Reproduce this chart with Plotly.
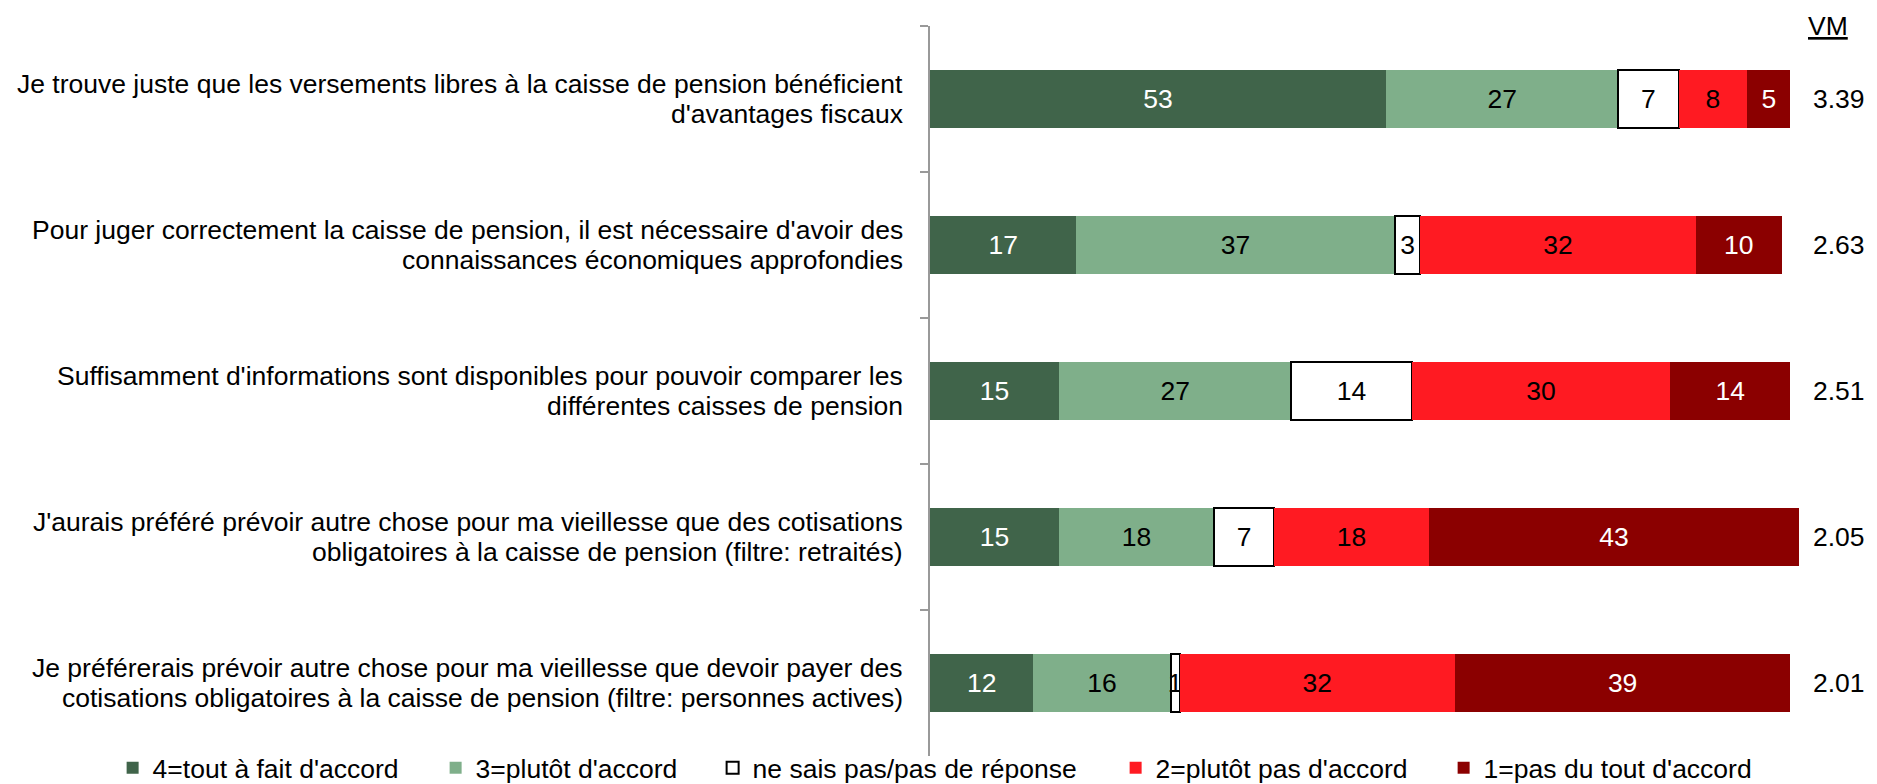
import plotly.graph_objects as go

# ---- data ----
label_line1 = [
    "Je trouve juste que les versements libres à la caisse de pension bénéficient",
    "Pour juger correctement la caisse de pension, il est nécessaire d'avoir des",
    "Suffisamment d'informations sont disponibles pour pouvoir comparer les",
    "J'aurais préféré prévoir autre chose pour ma vieillesse que des cotisations",
    "Je préférerais prévoir autre chose pour ma vieillesse que devoir payer des",
]
label_line2 = [
    "d'avantages fiscaux",
    "connaissances économiques approfondies",
    "différentes caisses de pension",
    "obligatoires à la caisse de pension (filtre: retraités)",
    "cotisations obligatoires à la caisse de pension (filtre: personnes actives)",
]
categories = [a + " " + b for a, b in zip(label_line1, label_line2)]

series_names = [
    "4=tout à fait d'accord",
    "3=plutôt d'accord",
    "ne sais pas/pas de réponse",
    "2=plutôt pas d'accord",
    "1=pas du tout d'accord",
]
v_tout_accord = [53, 17, 15, 15, 12]
v_plutot_accord = [27, 37, 27, 18, 16]
v_nsp = [7, 3, 14, 7, 1]
v_plutot_pas = [8, 32, 30, 18, 32]
v_pas_du_tout = [5, 10, 14, 43, 39]
vm_values = [3.39, 2.63, 2.51, 2.05, 2.01]
vm_header = "VM"

# ---- styles ----
FONT = "Liberation Sans, Arial, sans-serif"
FS = 26.5
colors = ["#40644A", "#7FAF8A", "#FFFFFF", "#FF1A22", "#8B0000"]
text_colors = ["white", "black", "black", "black", "white"]
line_w = [0, 0, 2, 0, 0]
legend_widths = [278, 232, 358, 283, 290]

W, H = 1877, 784
L, T, B = 930, 26, 28
XMAX = 101
PX_PER_UNIT = 8.6
R = W - L - XMAX * PX_PER_UNIT
PW = W - L - R
PH = H - T - B


def px_to_paper_x(px):
    return (px - L) / PW


def px_to_paper_y(py):
    return (H - B - py) / PH


fig = go.Figure()
all_series = [v_tout_accord, v_plutot_accord, v_nsp, v_plutot_pas, v_pas_du_tout]
for i, (name, vals) in enumerate(zip(series_names, all_series)):
    fig.add_trace(go.Bar(
        y=categories, x=vals, name=name, orientation="h",
        marker=dict(color=colors[i], line=dict(color="black", width=line_w[i])),
        text=[str(v) for v in vals], textposition="inside",
        insidetextanchor="middle", textangle=0,
        textfont=dict(family=FONT, size=FS, color=text_colors[i]),
        legendwidth=legend_widths[i],
        cliponaxis=False,
        hoverinfo="skip",
    ))

annotations = []
for cat, l1, l2, vm in zip(categories, label_line1, label_line2, vm_values):
    annotations.append(dict(x=0, xref="paper", y=cat, yref="y", text=l1,
                            xanchor="right", yanchor="middle", xshift=-25, yshift=15,
                            showarrow=False, font=dict(family=FONT, size=FS, color="black")))
    annotations.append(dict(x=0, xref="paper", y=cat, yref="y", text=l2,
                            xanchor="right", yanchor="middle", xshift=-25, yshift=-15,
                            showarrow=False, font=dict(family=FONT, size=FS, color="black")))
    annotations.append(dict(x=px_to_paper_x(1811), xref="paper", y=cat, yref="y", text=f"{vm:.2f}",
                            xanchor="left", yanchor="middle",
                            showarrow=False, font=dict(family=FONT, size=FS, color="black")))
annotations.append(dict(x=px_to_paper_x(1806), xref="paper", y=1.0, yref="paper",
                        text=f"<u>{vm_header}</u>",
                        xanchor="left", yanchor="middle",
                        showarrow=False, font=dict(family=FONT, size=FS, color="black")))

fig.update_layout(
    width=W, height=H,
    barmode="stack", bargap=0.596,
    margin=dict(l=L, r=R, t=T, b=B, autoexpand=False),
    plot_bgcolor="white", paper_bgcolor="white",
    font=dict(family=FONT, size=FS, color="black"),
    xaxis=dict(range=[0, XMAX], visible=False, fixedrange=True),
    yaxis=dict(autorange="reversed", showticklabels=False, showline=True,
               linecolor="#999999", linewidth=2, ticks="outside", ticklen=8,
               tickcolor="#999999", tickwidth=2, tickson="boundaries",
               showgrid=False, zeroline=False, fixedrange=True),
    showlegend=True,
    legend=dict(orientation="h", xref="paper", yref="paper",
                x=px_to_paper_x(113), y=px_to_paper_y(768),
                xanchor="left", yanchor="middle",
                font=dict(family=FONT, size=FS, color="black"),
                traceorder="normal", bgcolor="rgba(0,0,0,0)"),
    uniformtext=dict(minsize=FS, mode="show"),
    annotations=annotations,
)

fig.write_html("out.html", config={"displayModeBar": False},
               post_script="document.body.style.margin='0';document.body.style.overflow='hidden';")
